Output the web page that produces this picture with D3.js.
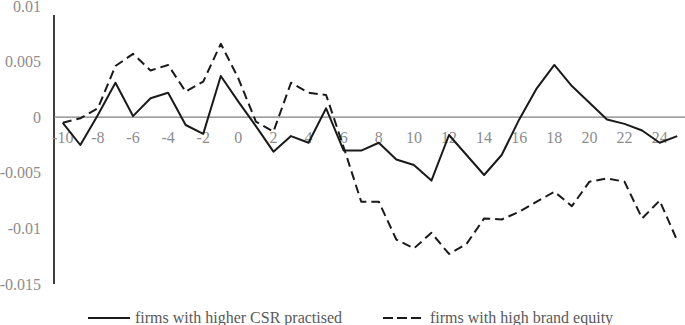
<!DOCTYPE html>
<html>
<head>
<meta charset="utf-8">
<script src="https://cdn.jsdelivr.net/npm/d3@7/dist/d3.min.js"></script>
<style>
  html, body { margin: 0; padding: 0; background: #fff; }
  svg { display: block; }
  text { font-family: "Liberation Serif", "Times New Roman", serif; }
</style>
</head>
<body>
<svg id="chart" width="685" height="325"></svg>
<script>
const categories = [-10,-9,-8,-7,-6,-5,-4,-3,-2,-1,0,1,2,3,4,5,6,7,8,9,10,11,12,13,14,15,16,17,18,19,20,21,22,23,24,25];
const csrValues = [-0.0005,-0.0025,0.0002,0.0031,0.0001,0.0017,0.0022,-0.0007,-0.0015,0.0037,0.0014,-0.0008,-0.0031,-0.0017,-0.0023,0.0008,-0.0030,-0.0030,-0.0023,-0.0038,-0.0043,-0.0057,-0.0016,-0.0034,-0.0052,-0.0034,-0.0002,0.0026,0.0047,0.0028,0.0013,-0.0002,-0.0006,-0.0012,-0.0023,-0.0017];
const brandValues = [-0.0005,-0.0001,0.0008,0.0046,0.0057,0.0042,0.0047,0.0023,0.0032,0.0066,0.0035,-0.0004,-0.0013,0.0031,0.0022,0.0020,-0.0027,-0.0076,-0.0076,-0.0110,-0.0118,-0.0104,-0.0123,-0.0114,-0.0091,-0.0092,-0.0085,-0.0076,-0.0067,-0.0080,-0.0058,-0.0055,-0.0058,-0.0091,-0.0075,-0.0111];
const yTicks = [0.01, 0.005, 0, -0.005, -0.01, -0.015];
const yTickLabels = ["0.01", "0.005", "0", "-0.005", "-0.01", "-0.015"];
const xTickLabels = [-10,-8,-6,-4,-2,0,2,4,6,8,10,12,14,16,18,20,22,24];
const seriesNames = ["firms with higher CSR practised", "firms with high brand equity"];

const svg = d3.select("#chart");
const plotLeft = 54, plotRight = 686, plotTop = 6, plotBottom = 284;

const x = d3.scaleBand().domain(categories).range([plotLeft, plotRight]).padding(0);
const cx = d => x(d) + x.bandwidth() / 2;
const y = d3.scaleLinear().domain([-0.015, 0.01]).range([plotBottom, plotTop]);

// Y axis labels
const yAxis = d3.axisLeft(y).tickValues(yTicks).tickSize(0).tickPadding(13)
  .tickFormat((d, i) => yTickLabels[i]);
const gy = svg.append("g").attr("transform", `translate(${plotLeft},0)`).call(yAxis);
gy.select(".domain").remove();
gy.selectAll("text").attr("font-size", 16).attr("fill", "#8c8c8c")
  .attr("font-family", "Liberation Serif").attr("dy", "0.32em");

// Y axis line
svg.append("line").attr("x1", plotLeft).attr("x2", plotLeft)
  .attr("y1", y(0.01) + 9).attr("y2", y(-0.015))
  .attr("stroke", "#000").attr("stroke-width", 1.5);

// X axis at zero
const xAxis = d3.axisBottom(x).tickValues(xTickLabels).tickSize(0).tickPadding(14)
  .tickSizeOuter(0);
const gx = svg.append("g").attr("transform", `translate(0,${y(0)})`).call(xAxis);
gx.select(".domain").attr("stroke", "#7f7f7f").attr("stroke-width", 1.3)
  .attr("d", `M${plotLeft},0H685`);
gx.selectAll("text").attr("font-size", 16).attr("fill", "#8c8c8c")
  .attr("font-family", "Liberation Serif");

// Series
const line = d3.line().x((d, i) => cx(categories[i])).y(d => y(d));
svg.append("path").datum(brandValues).attr("d", line)
  .attr("fill", "none").attr("stroke", "#1a1a1a").attr("stroke-width", 2)
  .attr("stroke-dasharray", "9,5").attr("stroke-linejoin", "round");
svg.append("path").datum(csrValues).attr("d", line)
  .attr("fill", "none").attr("stroke", "#1a1a1a").attr("stroke-width", 2)
  .attr("stroke-linejoin", "round");

// Legend
const legend = [
  { name: seriesNames[0], x: 88, dash: null },
  { name: seriesNames[1], x: 383, dash: "10,4" }
];
const ly = 318;
legend.forEach(l => {
  svg.append("line").attr("x1", l.x).attr("x2", l.x + 42).attr("y1", ly).attr("y2", ly)
    .attr("stroke", "#1a1a1a").attr("stroke-width", 2)
    .attr("stroke-dasharray", l.dash);
  svg.append("text").attr("x", l.x + 47).attr("y", ly).attr("dy", "0.32em")
    .attr("font-size", 16).attr("fill", "#595959").text(l.name);
});
</script>
</body>
</html>
